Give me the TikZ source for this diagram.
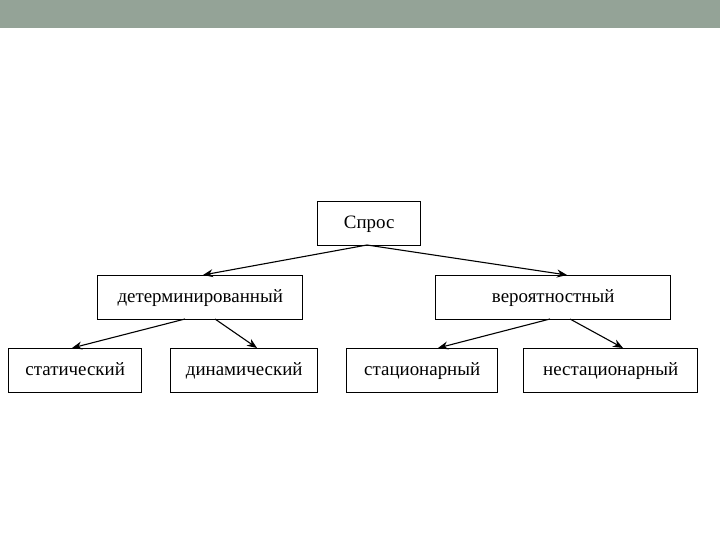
\documentclass[tikz,border=0pt]{standalone}
\usepackage{fontspec}
\setmainfont{Liberation Serif}
\usetikzlibrary{arrows.meta}
\definecolor{barcol}{HTML}{94A397}
\begin{document}
\begin{tikzpicture}[x=1bp,y=-1bp,
  box/.style={draw=black,line width=1.4bp,inner sep=0pt,anchor=north west,text height=12bp,text depth=2bp,font=\fontsize{19}{22}\selectfont},
  arr/.style={line width=1.1bp,-{Stealth[length=10bp,width=8bp]}}]
\useasboundingbox (0,0) rectangle (720,540);
\fill[barcol] (0,0) rectangle (720,28);
\node[box,minimum width=103bp,minimum height=44bp] (s) at (317,201) {Спрос};
\node[box,minimum width=205bp,minimum height=44bp] (d) at (97,275) {детерминированный};
\node[box,minimum width=235bp,minimum height=44bp] (v) at (435,275) {вероятностный};
\node[box,minimum width=133bp,minimum height=44bp] (st) at (8,348) {статический};
\node[box,minimum width=147bp,minimum height=44bp] (dn) at (170,348) {динамический};
\node[box,minimum width=151bp,minimum height=44bp] (sc) at (346,348) {стационарный};
\node[box,minimum width=174bp,minimum height=44bp] (ns) at (523,348) {нестационарный};
\coordinate (s1) at (367,245);
\coordinate (d1) at (185,319);
\coordinate (d2) at (215,319);
\coordinate (v1) at (550,319);
\coordinate (v2) at (570,319);
\draw[arr] (s1) -- (d.north west -| 203,0);
\draw[arr] (s1) -- (v.north west -| 567,0);
\draw[arr] (d1) -- (st.north west -| 72,0);
\draw[arr] (d2) -- (dn.north west -| 257,0);
\draw[arr] (v1) -- (sc.north west -| 438,0);
\draw[arr] (v2) -- (ns.north west -| 623,0);
\end{tikzpicture}
\end{document}
